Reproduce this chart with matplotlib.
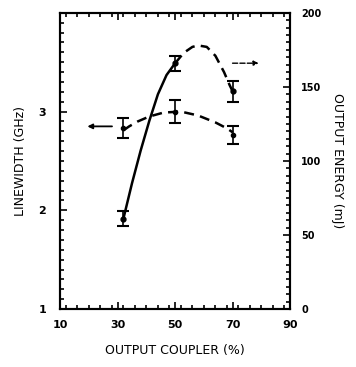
import matplotlib
matplotlib.use("Agg")
import matplotlib.pyplot as plt
from matplotlib.ticker import MultipleLocator

# Data
coupler = [32, 50, 70]
linewidth = [2.83, 3.00, 2.76]
linewidth_err = [0.10, 0.12, 0.09]
energy = [61, 166, 147]
energy_err = [5, 5, 7]

# guide curves
lw_curve_x = [32, 34, 37, 41, 46, 52, 58, 64, 68, 70]
lw_curve_y = [2.81, 2.85, 2.90, 2.95, 2.99, 3.00, 2.96, 2.89, 2.83, 2.79]
en_solid_x = [32, 35, 38, 41, 44, 47, 50]
en_solid_y = [61, 85, 107, 127, 145, 158, 166]
en_dash_x = [50, 53, 56, 58, 61, 64, 67, 69, 70]
en_dash_y = [166, 173, 177, 178, 177, 171, 160, 151, 147]

fig = plt.figure(figsize=(3.56, 3.67), dpi=100)
ax = fig.add_axes([0.169, 0.158, 0.646, 0.807])
ax2 = ax.twinx()

ax.set_xlim(10, 90)
ax.set_ylim(1, 4)
ax2.set_ylim(0, 200)

dash = (0, (4, 2.5))

# linewidth
ax.plot(lw_curve_x, lw_curve_y, color="black", lw=1.8, ls=dash)
ax.errorbar(coupler, linewidth, yerr=linewidth_err, fmt="o", ms=3, color="black",
            capsize=4, elinewidth=1.2, capthick=1.5)
ax.annotate("", xy=(18.5, 2.85), xytext=(29, 2.85),
            arrowprops=dict(arrowstyle="-|>", color="black", lw=1.3, mutation_scale=7))

# energy
ax2.plot(en_solid_x, en_solid_y, color="black", lw=1.8)
ax2.plot(en_dash_x, en_dash_y, color="black", lw=1.8, ls=dash)
ax2.errorbar(coupler, energy, yerr=energy_err, fmt="o", ms=3.5, color="black",
             capsize=4, elinewidth=1.2, capthick=1.5)
ax2.annotate("", xy=(80, 166), xytext=(69, 166),
             arrowprops=dict(arrowstyle="-|>", color="black", lw=1.0, ls="--", mutation_scale=7))

for a in (ax, ax2):
    for s in a.spines.values():
        s.set_linewidth(1.5)

ax.set_xticks([10, 30, 50, 70, 90])
ax.xaxis.set_minor_locator(MultipleLocator(4))
ax.set_yticks([1, 2, 3])
ax.yaxis.set_minor_locator(MultipleLocator(0.1))
ax2.set_yticks([0, 50, 100, 150, 200])
ax2.yaxis.set_minor_locator(MultipleLocator(5))

ax.tick_params(axis="both", which="both", direction="in", top=True, width=1.2)
ax.tick_params(axis="both", which="major", length=5, labelsize=8)
ax.tick_params(axis="both", which="minor", length=3)
ax.tick_params(axis="x", pad=8)
ax.tick_params(axis="y", pad=10)
ax2.tick_params(axis="y", which="both", direction="in", width=1.2)
ax2.tick_params(axis="y", which="major", length=5, labelsize=7, pad=8)
ax2.tick_params(axis="y", which="minor", length=3)

for lbl in ax.get_xticklabels() + ax.get_yticklabels() + ax2.get_yticklabels():
    lbl.set_fontweight("bold")

ax.set_xlabel("OUTPUT COUPLER (%)", fontsize=9, labelpad=10)
ax.set_ylabel("LINEWIDTH (GHz)", fontsize=9, labelpad=8)
ax2.set_ylabel("OUTPUT ENERGY (mJ)", fontsize=9, rotation=-90, labelpad=16)

fig.savefig("out.png", dpi=100)
